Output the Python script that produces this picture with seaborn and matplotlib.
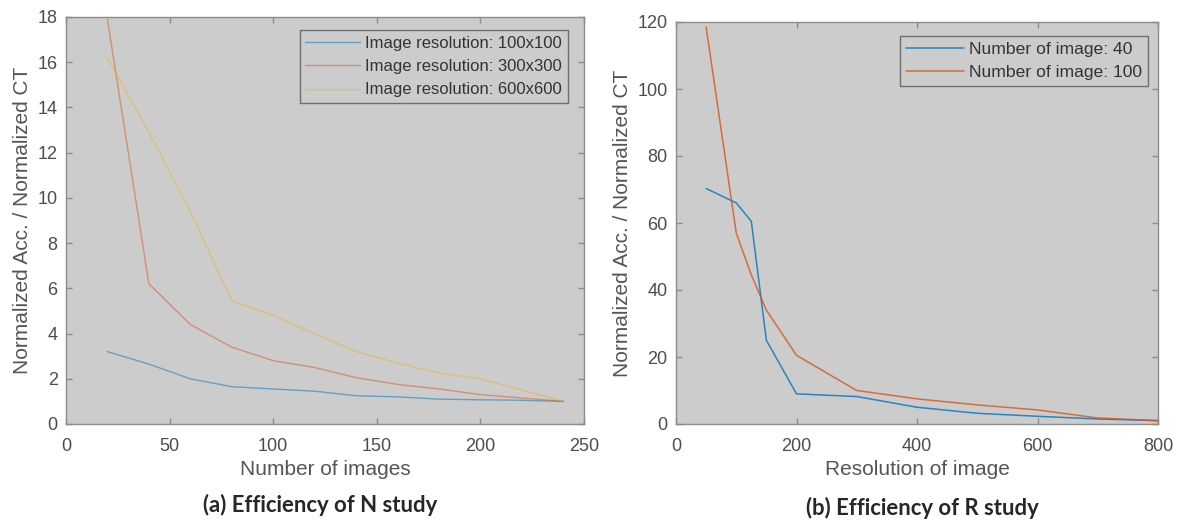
import numpy as np
import pandas as pd
import matplotlib
matplotlib.use("Agg")
import matplotlib.pyplot as plt
import seaborn as sns

# ---- data (a) ----
n_images = [20, 40, 60, 80, 100, 120, 140, 160, 180, 200, 220, 240]
res_100 = [3.2, 2.65, 2.0, 1.65, 1.55, 1.45, 1.25, 1.2, 1.1, 1.07, 1.05, 1.0]
res_300 = [17.9, 6.2, 4.4, 3.4, 2.8, 2.5, 2.05, 1.75, 1.55, 1.3, 1.15, 1.0]
res_600 = [16.2, 12.9, 9.4, 5.45, 4.8, 4.0, 3.2, 2.7, 2.25, 2.0, 1.5, 1.0]
labels_a = ["Image resolution: 100x100", "Image resolution: 300x300",
            "Image resolution: 600x600"]

# ---- data (b) ----
res_40 = [50, 100, 125, 150, 200, 300, 400, 500, 600, 700, 800]
img_40 = [70.3, 66.0, 60.5, 25.0, 9.0, 8.2, 5.0, 3.2, 2.3, 1.5, 1.0]
res_100b = [50, 100, 125, 150, 200, 300, 400, 500, 600, 700, 800]
img_100 = [118.5, 57.0, 44.5, 34.0, 20.5, 10.0, 7.5, 5.7, 4.2, 1.8, 1.0]
labels_b = ["Number of image: 40", "Number of image: 100"]

sns.set_style("white")
plt.rcParams['font.family'] = ['Liberation Sans', 'DejaVu Sans']

mat_colors = ["#0072BD", "#D95319", "#EDB120"]
grey_txt = "#4d4d4d"
bg = "#cccccc"
spine = "#8c8c8c"

df_a = pd.concat([
    pd.DataFrame({"x": n_images, "y": v, "series": lab})
    for v, lab in zip([res_100, res_300, res_600], labels_a)
])
df_b = pd.concat([
    pd.DataFrame({"x": xs, "y": v, "series": lab})
    for xs, v, lab in zip([res_40, res_100b], [img_40, img_100], labels_b)
])

fig = plt.figure(figsize=(11.91, 5.22), dpi=100)
ax1 = fig.add_axes([66/1191, 98/522, 518/1191, 407/522])
ax2 = fig.add_axes([676/1191, 98/522, 482/1191, 402/522])

sns.lineplot(data=df_a, x="x", y="y", hue="series", palette=mat_colors,
             ax=ax1, lw=1.0, alpha=0.5, sort=False, estimator=None)
sns.lineplot(data=df_b, x="x", y="y", hue="series", palette=mat_colors[:2],
             ax=ax2, lw=1.1, alpha=0.8, sort=False, estimator=None)

ax1.set_xlim(0, 250); ax1.set_ylim(0, 18)
ax1.set_xticks([0, 50, 100, 150, 200, 250])
ax1.set_yticks(range(0, 19, 2))
ax2.set_xlim(0, 800); ax2.set_ylim(0, 120)
ax2.set_xticks([0, 200, 400, 600, 800])
ax2.set_yticks(range(0, 121, 20))

legend_cfg = [
    (ax1, 12, 0.5, ((568 - 66) / 518, 1 - (30 - 17) / 407)),
    (ax2, 12.6, 0.4, ((1148 - 676) / 482, 1 - (36 - 22) / 402)),
]

for ax, xl in [(ax1, "Number of images"), (ax2, "Resolution of image")]:
    ax.set_facecolor(bg)
    for s in ax.spines.values():
        s.set_color(spine)
        s.set_linewidth(1.0)
        s.set_visible(True)
    ax.tick_params(axis="x", pad=10)
    ax.tick_params(axis="y", pad=6)
    ax.tick_params(direction="in", length=4, width=1, color=spine,
                   labelsize=13, labelcolor=grey_txt, top=True, right=True,
                   bottom=True, left=True)
    ax.set_xlabel(xl, fontsize=15, color="#555555", labelpad=4)
    ax.set_ylabel("Normalized Acc. / Normalized CT", fontsize=15,
                  color="#555555", labelpad=4)

for ax, fs, ls, anchor in legend_cfg:
    leg = ax.legend(loc="upper right", fontsize=fs, frameon=True,
                    facecolor=bg, edgecolor="#6e6e6e", fancybox=False,
                    framealpha=1, handlelength=3.3, handletextpad=0.3,
                    borderpad=0.35, labelspacing=ls, borderaxespad=0,
                    bbox_to_anchor=anchor)
    leg.get_frame().set_linewidth(1.0)
    for t in leg.get_texts():
        t.set_color("#333333")

fig.text(320/1191, 1 - 505/522, "(a) Efficiency of N study", ha="center",
         va="center", fontsize=15.9, fontweight="bold", family="Lato")
fig.text(922/1191, 1 - 508/522, "(b) Efficiency of R study", ha="center",
         va="center", fontsize=15.9, fontweight="bold", family="Lato")

fig.savefig("out.png", dpi=100, facecolor="white")
